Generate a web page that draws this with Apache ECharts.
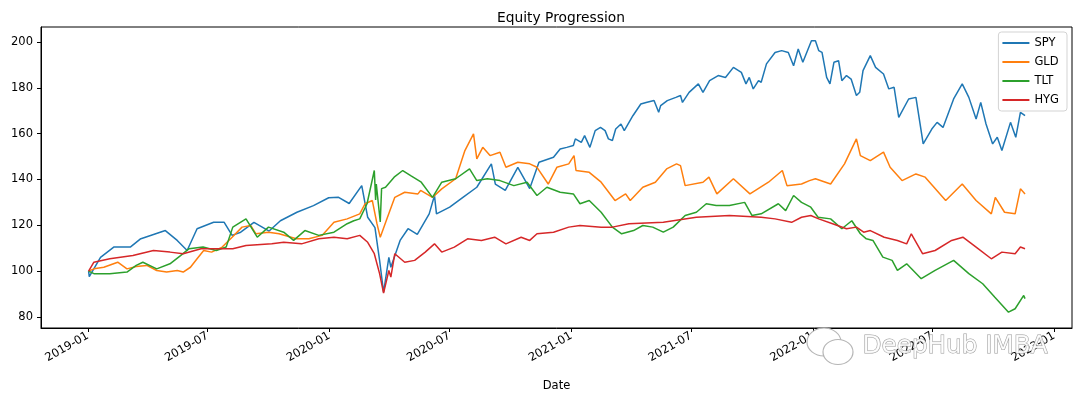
<!DOCTYPE html>
<html>
<head>
<meta charset="utf-8">
<title>Equity Progression</title>
<script src="https://cdn.jsdelivr.net/npm/echarts@6/dist/echarts.min.js"></script>
<style>
  html, body { margin: 0; padding: 0; background: #fff; }
  #chart { width: 1080px; height: 399px; }
</style>
</head>
<body>
<div id="chart"></div>
<script>
// values, normalised to 100 on the first day
const spy = [
  ['2019-01-02', 100], ['2019-01-03', 97.6], ['2019-01-20', 106], ['2019-02-09', 110.5],
  ['2019-03-06', 110.5], ['2019-03-21', 114], ['2019-04-28', 117.7], ['2019-05-16', 113.4],
  ['2019-05-31', 109], ['2019-06-15', 118.5], ['2019-07-10', 121.3], ['2019-07-26', 121.3],
  ['2019-08-07', 115.6], ['2019-08-20', 117], ['2019-09-09', 121.3], ['2019-10-02', 117.5],
  ['2019-10-19', 122], ['2019-11-13', 125.7], ['2019-12-08', 128.6], ['2019-12-31', 132],
  ['2020-01-15', 132.2], ['2020-01-31', 129.5], ['2020-02-19', 137.3], ['2020-02-28', 123.5],
  ['2020-03-10', 119], ['2020-03-17', 104.7], ['2020-03-23', 90.8], ['2020-03-31', 106],
  ['2020-04-03', 101.7], ['2020-04-17', 113.4], ['2020-04-29', 118.5], ['2020-05-13', 116],
  ['2020-05-31', 125], ['2020-06-08', 133], ['2020-06-11', 125], ['2020-07-01', 127.9],
  ['2020-07-21', 132.2], ['2020-08-11', 136.6], ['2020-09-02', 146.8], ['2020-09-08', 138],
  ['2020-09-23', 135.2], ['2020-10-12', 145.3], ['2020-10-30', 136], ['2020-11-13', 147.5],
  ['2020-12-05', 149.7], ['2020-12-15', 153.3], ['2020-12-25', 154], ['2021-01-04', 154.8],
  ['2021-01-07', 157.7], ['2021-01-16', 156.2], ['2021-01-21', 159.1], ['2021-01-29', 154],
  ['2021-02-06', 161.3], ['2021-02-14', 162.7], ['2021-02-21', 161.3], ['2021-02-26', 157.7],
  ['2021-03-04', 157], ['2021-03-09', 162], ['2021-03-17', 164.2], ['2021-03-22', 161.3],
  ['2021-04-04', 167.8], ['2021-04-16', 172.9], ['2021-04-24', 173.6], ['2021-05-06', 174.4],
  ['2021-05-13', 169.3], ['2021-05-16', 172.2], ['2021-05-26', 174.4], ['2021-06-08', 175.8],
  ['2021-06-15', 176.6], ['2021-06-18', 173.6], ['2021-06-28', 178], ['2021-07-12', 181.7],
  ['2021-07-19', 178], ['2021-07-29', 183.1], ['2021-08-11', 185.3], ['2021-08-22', 184.5],
  ['2021-09-03', 188.9], ['2021-09-15', 186.7], ['2021-09-22', 181.7], ['2021-09-27', 184.5],
  ['2021-10-03', 179.5], ['2021-10-11', 183.1], ['2021-10-15', 182.4], ['2021-10-23', 190.4],
  ['2021-11-05', 195.4], ['2021-11-15', 196.2], ['2021-11-25', 195.4], ['2021-12-03', 189.6],
  ['2021-12-10', 196.9], ['2021-12-17', 191.1], ['2021-12-20', 191.8], ['2021-12-30', 200.5],
  ['2022-01-05', 200.5], ['2022-01-10', 196.2], ['2022-01-15', 195.4], ['2022-01-22', 184.5],
  ['2022-01-27', 181.7], ['2022-02-02', 191.1], ['2022-02-09', 191.8], ['2022-02-14', 183.1],
  ['2022-02-21', 185.3], ['2022-02-28', 183.8], ['2022-03-08', 176.6], ['2022-03-13', 178],
  ['2022-03-18', 187.5], ['2022-03-29', 194], ['2022-04-06', 188.9], ['2022-04-18', 186],
  ['2022-04-26', 179.5], ['2022-05-04', 180.2], ['2022-05-11', 167.1], ['2022-05-26', 175.1],
  ['2022-06-06', 175.8], ['2022-06-17', 155.5], ['2022-06-30', 162], ['2022-07-08', 164.9],
  ['2022-07-17', 162.7], ['2022-08-02', 175.1], ['2022-08-15', 181.7], ['2022-08-25', 175.8],
  ['2022-09-05', 166.4], ['2022-09-12', 173.6], ['2022-09-20', 164.2], ['2022-09-30', 155.5],
  ['2022-10-07', 158.4], ['2022-10-14', 152.6], ['2022-10-27', 164.9], ['2022-11-04', 158.4],
  ['2022-11-11', 169.3], ['2022-11-18', 167.8]
]

const gld = [
  ['2019-01-02', 100], ['2019-01-10', 101], ['2019-01-25', 101.7], ['2019-02-15', 103.9],
  ['2019-03-01', 101], ['2019-03-15', 102], ['2019-03-31', 102.5], ['2019-04-15', 100.3],
  ['2019-04-30', 99.6], ['2019-05-16', 100.3], ['2019-05-25', 99.6], ['2019-06-05', 101.7],
  ['2019-06-15', 105.4], ['2019-06-25', 109], ['2019-07-07', 108.3], ['2019-07-23', 110.5],
  ['2019-08-07', 114.8], ['2019-08-22', 119.2], ['2019-09-04', 119.9], ['2019-09-12', 116.3],
  ['2019-10-01', 117], ['2019-10-17', 116.3], ['2019-11-12', 114.1], ['2019-12-01', 114.1],
  ['2019-12-21', 115.6], ['2020-01-08', 121.3], ['2020-01-28', 122.8], ['2020-02-16', 125],
  ['2020-02-24', 129.4], ['2020-03-06', 130.8], ['2020-03-13', 120.7], ['2020-03-18', 114.8],
  ['2020-03-27', 122], ['2020-04-09', 132.2], ['2020-04-24', 134.4], ['2020-05-14', 133.7],
  ['2020-05-18', 135.2], ['2020-06-05', 132.2], ['2020-06-19', 135.9], ['2020-07-10', 140.3],
  ['2020-07-24', 152.6], ['2020-08-06', 159.9], ['2020-08-11', 149], ['2020-08-20', 154],
  ['2020-08-31', 150.4], ['2020-09-15', 151.9], ['2020-09-24', 145.3], ['2020-10-12', 147.5],
  ['2020-10-30', 146.8], ['2020-11-10', 145.3], ['2020-11-27', 138], ['2020-12-10', 145.3],
  ['2020-12-28', 146.8], ['2021-01-05', 150.4], ['2021-01-08', 143.9], ['2021-01-28', 143.1],
  ['2021-02-15', 138.8], ['2021-03-08', 130.8], ['2021-03-24', 133.7], ['2021-03-31', 130.8],
  ['2021-04-19', 136.6], ['2021-05-08', 138.8], ['2021-05-25', 144.6], ['2021-06-09', 146.8],
  ['2021-06-15', 146], ['2021-06-22', 137.3], ['2021-07-19', 138.8], ['2021-07-28', 141],
  ['2021-08-09', 133.7], ['2021-09-03', 140.3], ['2021-09-28', 133.7], ['2021-10-26', 138.8],
  ['2021-11-16', 143.9], ['2021-11-23', 137.3], ['2021-12-15', 138], ['2021-12-27', 139.5],
  ['2022-01-05', 140.3], ['2022-01-28', 138], ['2022-02-18', 146.8], ['2022-03-08', 157.7],
  ['2022-03-14', 150.4], ['2022-03-29', 148.2], ['2022-04-18', 151.9], ['2022-04-28', 145.3],
  ['2022-05-16', 139.5], ['2022-06-06', 142.4], ['2022-06-20', 141], ['2022-07-21', 130.8],
  ['2022-08-15', 138], ['2022-09-05', 130.8], ['2022-09-28', 125], ['2022-10-04', 132.2],
  ['2022-10-18', 125.7], ['2022-11-03', 125], ['2022-11-11', 135.9], ['2022-11-18', 133.7]
]

const tlt = [
  ['2019-01-02', 100], ['2019-01-10', 98.9], ['2019-02-03', 98.9], ['2019-03-01', 99.6],
  ['2019-03-15', 102.5], ['2019-03-25', 103.9], ['2019-04-15', 101], ['2019-05-05', 103.2],
  ['2019-05-21', 106.8], ['2019-06-03', 109.8], ['2019-06-24', 110.5], ['2019-07-14', 109],
  ['2019-07-29', 110.5], ['2019-08-08', 119.2], ['2019-08-28', 122.8], ['2019-09-14', 114.8],
  ['2019-10-01', 119.2], ['2019-10-24', 117], ['2019-11-08', 113.4], ['2019-11-25', 117.7],
  ['2019-12-16', 115.6], ['2020-01-08', 117], ['2020-01-28', 120.7], ['2020-02-07', 122],
  ['2020-02-16', 122.8], ['2020-02-27', 129.4], ['2020-03-09', 143.9], ['2020-03-11', 131],
  ['2020-03-12', 138], ['2020-03-18', 121.5], ['2020-03-20', 136], ['2020-03-26', 136.6],
  ['2020-04-08', 141], ['2020-04-21', 143.9], ['2020-05-03', 141.7], ['2020-05-19', 138.8],
  ['2020-06-05', 132.2], ['2020-06-19', 138.8], ['2020-07-10', 140.3], ['2020-07-31', 144.6],
  ['2020-08-11', 139.5], ['2020-08-27', 140.3], ['2020-09-15', 139.5], ['2020-10-06', 137.3],
  ['2020-10-26', 138.8], ['2020-11-10', 133], ['2020-11-25', 136.6], ['2020-12-15', 134.4],
  ['2021-01-04', 133.7], ['2021-01-14', 129.4], ['2021-01-28', 130.8], ['2021-02-15', 125.7],
  ['2021-03-04', 119.2], ['2021-03-18', 116.3], ['2021-04-05', 117.7], ['2021-04-19', 119.9],
  ['2021-05-04', 119.2], ['2021-05-20', 117], ['2021-06-04', 119.2], ['2021-06-22', 124.3],
  ['2021-07-09', 125.7], ['2021-07-24', 129.4], ['2021-08-08', 128.6], ['2021-08-28', 128.6],
  ['2021-09-20', 130], ['2021-10-01', 124.3], ['2021-10-15', 125], ['2021-11-10', 129.4],
  ['2021-11-21', 126.4], ['2021-12-03', 133], ['2021-12-15', 130], ['2021-12-29', 127.9],
  ['2022-01-09', 123.5], ['2022-01-28', 122.8], ['2022-02-14', 118.5], ['2022-03-01', 122],
  ['2022-03-14', 116.3], ['2022-03-23', 114.1], ['2022-04-02', 113.4], ['2022-04-17', 106.1],
  ['2022-05-01', 104.7], ['2022-05-09', 100.3], ['2022-05-23', 103.2], ['2022-06-14', 96.7],
  ['2022-07-05', 100.3], ['2022-08-02', 104.7], ['2022-08-25', 98.9], ['2022-09-15', 94.5],
  ['2022-10-03', 88.7], ['2022-10-24', 82.1], ['2022-11-03', 83.6], ['2022-11-16', 89.4],
  ['2022-11-18', 88]
]

const hyg = [
  ['2019-01-02', 100], ['2019-01-10', 103.9], ['2019-02-03', 105.4], ['2019-03-10', 106.8],
  ['2019-04-10', 109], ['2019-05-05', 108.3], ['2019-05-25', 107.6], ['2019-06-21', 109.8],
  ['2019-07-14', 109.8], ['2019-08-08', 109.8], ['2019-08-28', 111.2], ['2019-10-06', 111.9],
  ['2019-10-24', 112.6], ['2019-11-20', 111.9], ['2019-12-16', 114.1], ['2020-01-08', 114.8],
  ['2020-01-28', 114.1], ['2020-02-16', 115.6], ['2020-02-28', 112.6], ['2020-03-09', 107.6],
  ['2020-03-17', 98.9], ['2020-03-23', 90.4], ['2020-03-31', 100.3], ['2020-04-03', 97.4],
  ['2020-04-09', 107.6], ['2020-04-24', 103.9], ['2020-05-09', 104.7], ['2020-05-25', 108.3],
  ['2020-06-08', 111.9], ['2020-06-19', 108.3], ['2020-07-08', 110.5], ['2020-07-28', 114.1],
  ['2020-08-18', 113.4], ['2020-09-07', 114.8], ['2020-09-24', 111.9], ['2020-10-17', 114.8],
  ['2020-10-30', 113.4], ['2020-11-10', 116.3], ['2020-12-05', 117], ['2020-12-28', 119.2],
  ['2021-01-14', 119.9], ['2021-02-15', 119.2], ['2021-03-04', 119.2], ['2021-03-29', 120.7],
  ['2021-05-20', 121.3], ['2021-07-09', 123.5], ['2021-08-28', 124.3], ['2021-10-15', 123.5],
  ['2021-11-05', 122.8], ['2021-11-30', 121.3], ['2021-12-15', 123.5], ['2021-12-29', 124.3],
  ['2022-01-10', 122.8], ['2022-01-31', 120.7], ['2022-02-21', 118.5], ['2022-03-08', 119.2],
  ['2022-03-19', 117], ['2022-03-29', 117.7], ['2022-04-19', 114.8], ['2022-05-09', 113.4],
  ['2022-05-23', 111.9], ['2022-05-30', 116.3], ['2022-06-16', 107.6], ['2022-07-05', 109],
  ['2022-07-30', 113.4], ['2022-08-16', 114.8], ['2022-09-05', 110.5], ['2022-09-28', 105.4],
  ['2022-10-14', 108.3], ['2022-11-03', 107.6], ['2022-11-11', 110.5], ['2022-11-18', 109.8]
]

const seriesNames = ['SPY', 'GLD', 'TLT', 'HYG']
const seriesColors = ['#1f77b4', '#ff7f0e', '#2ca02c', '#d62728']
const yTicks = [80, 100, 120, 140, 160, 180, 200]
const xTicks = ['2019-01-01', '2019-07-01', '2020-01-01', '2020-07-01', '2021-01-01',
  '2021-07-01', '2022-01-01', '2022-07-01', '2023-01-01']

const font = 'DejaVu Sans'
const toTime = s => {
  const [y, m, d] = s.split('-').map(Number)
  return new Date(y, m - 1, d).getTime()
}
const monthLabel = v => {
  const d = new Date(v)
  return d.getFullYear() + '-' + String(d.getMonth() + 1).padStart(2, '0')
}

const chart = echarts.init(document.getElementById('chart'))

chart.setOption({
  animation: false,
  textStyle: { fontFamily: font },
  title: {
    text: 'Equity Progression',
    left: 556,
    textAlign: 'center',
    top: 6,
    textStyle: { fontFamily: font, fontSize: 13.8, fontWeight: 'normal', color: '#000' },
  },
  legend: {
    data: seriesNames,
    orient: 'vertical',
    right: 13,
    top: 32,
    icon: 'rect',
    itemWidth: 27,
    itemHeight: 2,
    itemGap: 5,
    padding: [4, 8, 4, 4],
    borderColor: '#d3d3d3',
    borderWidth: 1,
    borderRadius: 3,
    backgroundColor: 'rgba(255,255,255,0.8)',
    textStyle: { fontFamily: font, fontSize: 11.5, color: '#000', lineHeight: 14 },
  },
  grid: {
    left: 41,
    right: 8,
    top: 27,
    bottom: 71,
    show: true,
    borderColor: '#000',
    borderWidth: 1,
    backgroundColor: 'transparent',
  },
  xAxis: {
    type: 'value',
    min: toTime('2018-10-22'),
    max: toTime('2023-01-28'),
    name: 'Date',
    nameLocation: 'middle',
    nameGap: 52,
    nameTextStyle: { fontFamily: font, fontSize: 11.5, color: '#000' },
    axisLine: { show: true, lineStyle: { color: '#000', width: 1 } },
    axisTick: {
      show: true,
      length: 4,
      lineStyle: { color: '#000' },
      customValues: xTicks.map(toTime),
    },
    axisLabel: {
      rotate: 30,
      margin: 7,
      fontFamily: font,
      fontSize: 11.5,
      color: '#000',
      customValues: xTicks.map(toTime),
      formatter: monthLabel,
    },
    splitLine: { show: false },
  },
  yAxis: {
    type: 'value',
    min: 75.2,
    max: 206.5,
    axisLine: { show: true, lineStyle: { color: '#000', width: 1 } },
    axisTick: { show: true, length: 4, lineStyle: { color: '#000' }, customValues: yTicks },
    axisLabel: {
      margin: 8,
      fontFamily: font,
      fontSize: 11.5,
      color: '#000',
      customValues: yTicks,
    },
    splitLine: { show: false },
  },
  graphic: [
    {
      type: 'ellipse',
      shape: { cx: 824, cy: 342, rx: 17, ry: 14 },
      style: { fill: '#fff', stroke: '#b5b5b5', lineWidth: 1.2 },
      z: 100,
    },
    {
      type: 'ellipse',
      shape: { cx: 838, cy: 352, rx: 15, ry: 12.5 },
      style: { fill: '#fff', stroke: '#b5b5b5', lineWidth: 1.2 },
      z: 101,
    },
    {
      type: 'text',
      left: 862,
      top: 334,
      z: 102,
      style: {
        text: 'DeepHub IMBA',
        font: '24.7px "DejaVu Sans"',
        fill: 'rgba(255,255,255,0.85)',
        stroke: '#9a9a9a',
        lineWidth: 1,
      },
    },
  ],
  series: [spy, gld, tlt, hyg].map((data, i) => ({
    name: seriesNames[i],
    type: 'line',
    data: data.map(p => [toTime(p[0]), p[1]]),
    showSymbol: false,
    symbol: 'none',
    lineStyle: { width: 1.5, color: seriesColors[i] },
    itemStyle: { color: seriesColors[i] },
  })),
})
</script>
</body>
</html>
